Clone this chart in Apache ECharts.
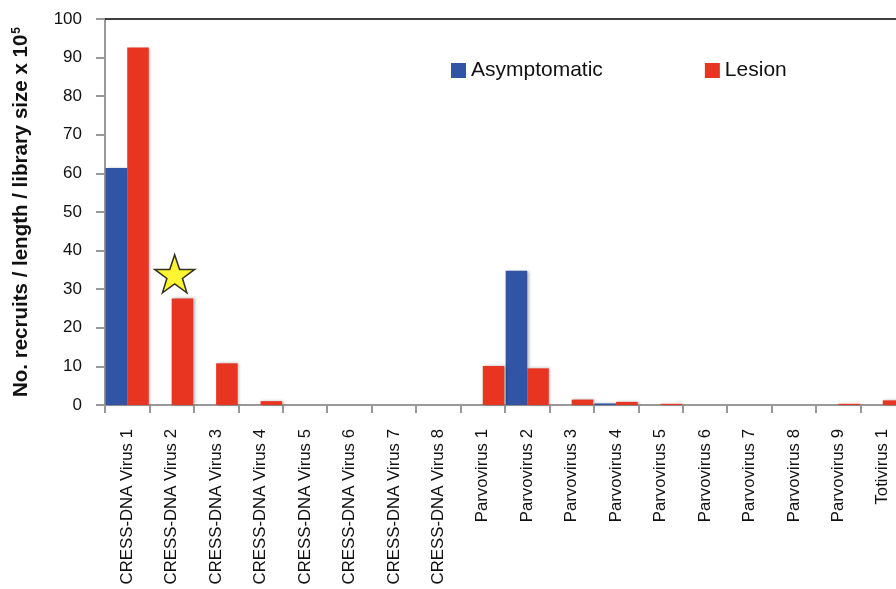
<!DOCTYPE html>
<html>
<head>
<meta charset="utf-8">
<script src="https://cdn.jsdelivr.net/npm/echarts@6/dist/echarts.min.js"></script>
<style>html,body{margin:0;padding:0;background:#fff}#c{width:896px;height:589px}</style>
</head>
<body>
<div id="c"></div>
<script>
const categories = ['CRESS-DNA Virus 1','CRESS-DNA Virus 2','CRESS-DNA Virus 3','CRESS-DNA Virus 4','CRESS-DNA Virus 5','CRESS-DNA Virus 6','CRESS-DNA Virus 7','CRESS-DNA Virus 8','Parvovirus 1','Parvovirus 2','Parvovirus 3','Parvovirus 4','Parvovirus 5','Parvovirus 6','Parvovirus 7','Parvovirus 8','Parvovirus 9','Totivirus 1'];
const asymptomatic = [61.4, 0, 0, 0, 0, 0, 0, 0, 0, 34.8, 0, 0.4, 0, 0, 0, 0, 0, 0];
const lesion = [92.6, 27.6, 10.8, 1.0, 0, 0, 0, 0, 10.1, 9.5, 1.4, 0.8, 0.3, 0, 0, 0, 0.3, 1.2];
const starPoint = ['CRESS-DNA Virus 2', 34];
const yTicks = {min: 0, max: 100, interval: 10};

const FONT = "'Liberation Sans', Arial, sans-serif";
const starPath = 'path://M50,0 L61.8,35.1 L98.1,35.1 L68.8,56.7 L79.4,90.9 L50,70 L20.6,90.9 L31.2,56.7 L1.9,35.1 L38.2,35.1 Z';
const chart = echarts.init(document.getElementById('c'));
const barShadow = {shadowBlur: 3, shadowColor: 'rgba(0,0,0,0.3)', shadowOffsetX: 1.5};
chart.setOption({
  animation: false,
  textStyle: {fontFamily: FONT},
  grid: {left: 105, top: 19, bottom: 184, right: -9, containLabel: false, outerBoundsMode: 'none'},
  legend: {
    left: 446, top: 55, itemWidth: 15, itemHeight: 15, itemGap: 102,
    icon: 'rect',
    textStyle: {fontSize: 21, color: '#111', fontFamily: FONT},
    data: ['Asymptomatic', 'Lesion']
  },
  xAxis: [{
    type: 'category', data: categories, position: 'bottom',
    axisLine: {lineStyle: {color: '#999', width: 2}},
    axisTick: {show: true, length: 8, lineStyle: {color: '#999', width: 2}},
    axisLabel: {rotate: 90, margin: 24, fontSize: 16.8, color: '#111', fontFamily: FONT, interval: 0},
    splitLine: {show: false}
  }, {
    type: 'category', data: categories, position: 'top',
    axisLine: {lineStyle: {color: '#000', width: 1.5}},
    axisTick: {show: false}, axisLabel: {show: false}, splitLine: {show: false}
  }],
  yAxis: {
    type: 'value', min: yTicks.min, max: yTicks.max, interval: yTicks.interval,
    axisLine: {show: true, lineStyle: {color: '#999', width: 2}},
    axisTick: {show: true, length: 9, lineStyle: {color: '#999', width: 2}},
    axisLabel: {fontSize: 17, color: '#111', margin: 23, fontFamily: FONT},
    splitLine: {show: false},
    name: '{b|No. recruits / length / library size x 10}{s|5}',
    nameLocation: 'middle', nameGap: 73, nameRotate: 90,
    nameTextStyle: {
      rich: {
        b: {fontSize: 20.5, fontWeight: 'bold', color: '#111', fontFamily: FONT},
        s: {fontSize: 12, fontWeight: 'bold', color: '#111', fontFamily: FONT, padding: [0, 0, 9, 1]}
      }
    }
  },
  series: [{
    name: 'Asymptomatic', type: 'bar', data: asymptomatic,
    barGap: '0%', barCategoryGap: '3%',
    itemStyle: Object.assign({color: '#3155A4'}, barShadow)
  }, {
    name: 'Lesion', type: 'bar', data: lesion,
    barGap: '0%', barCategoryGap: '3%',
    itemStyle: Object.assign({color: '#E83522'}, barShadow)
  }, {
    name: 'star', type: 'scatter', data: [starPoint],
    symbol: starPath, symbolSize: [40, 38], symbolOffset: [3, 0],
    itemStyle: {color: '#FFF200', borderColor: '#000', borderWidth: 1.5},
    z: 5
  }]
});
</script>
</body>
</html>
